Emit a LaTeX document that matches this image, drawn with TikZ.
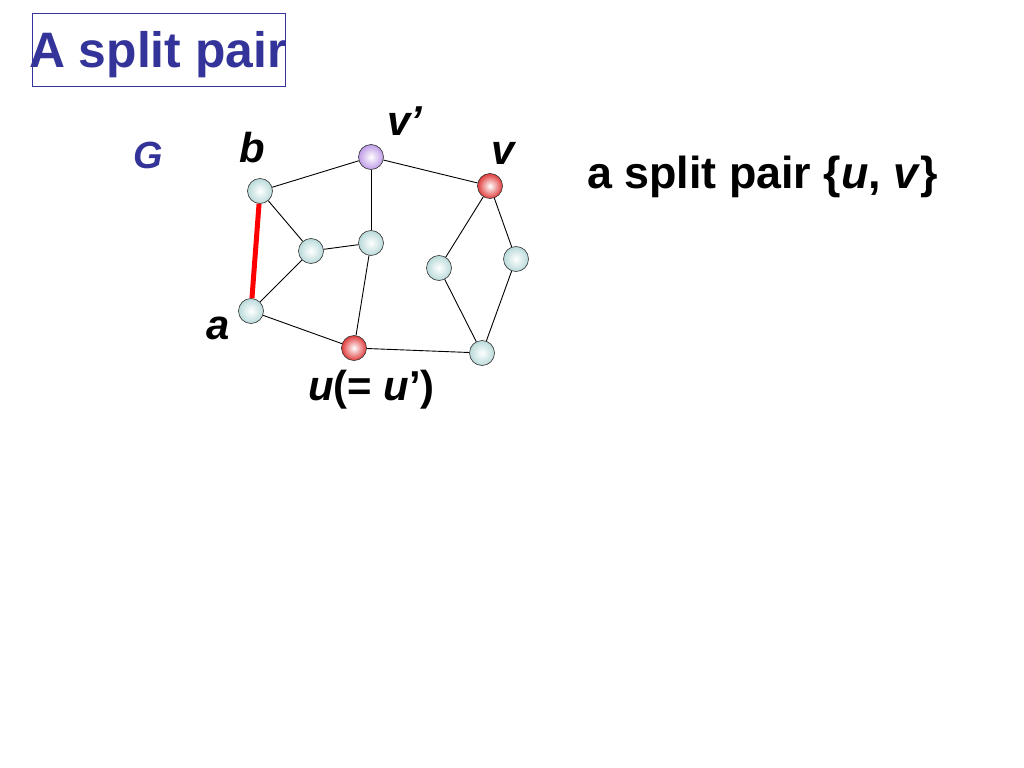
\documentclass[tikz,border=0pt]{standalone}
\usepackage{fontspec}
\setmainfont{Liberation Sans}
\begin{document}
\begin{tikzpicture}[x=1bp,y=-1bp,
  vtx/.style={circle,draw=black!80,line width=0.6bp,minimum size=25bp,inner sep=0pt,inner color=white},
  plain/.style={vtx,outer color=nodecyan},
  redv/.style={vtx,outer color=nodered},
  purv/.style={vtx,outer color=nodepurple},
  edge/.style={line width=0.9bp,black},
  lab/.style={anchor=base west,inner sep=0pt,font=\bfseries\itshape\fontsize{42}{46}\selectfont},
  ]
\definecolor{titleblue}{RGB}{51,51,153}
\definecolor{nodecyan}{RGB}{185,218,218}
\definecolor{nodered}{RGB}{225,60,60}
\definecolor{nodepurple}{RGB}{190,155,230}
\useasboundingbox (0,0) rectangle (1024,768);
% title
\node[draw=titleblue,line width=1bp,minimum width=253bp,minimum height=73bp,inner sep=0pt,anchor=north west] (tbox) at (32,13) {};
\node[anchor=base west,inner sep=0pt,text=titleblue,font=\bfseries\fontsize{50}{56}\selectfont] (title) at (29,68) {A split pair};
% vertices
\node[plain] (b) at (260,191) {};
\node[purv] (vp) at (371,157) {};
\node[redv] (v) at (490,186) {};
\node[plain] (m1) at (311,251) {};
\node[plain] (m2) at (371,243) {};
\node[plain] (a) at (251,311) {};
\node[redv] (u) at (354,348) {};
\node[plain] (r1) at (439,268) {};
\node[plain] (r2) at (516,259) {};
\node[plain] (br) at (482,353) {};
% edges
\draw[edge] (b) -- (vp);
\draw[edge] (b) -- (m1);
\draw[edge] (m1) -- (m2);
\draw[edge] (m1) -- (a);
\draw[edge] (vp) -- (m2);
\draw[edge] (vp) -- (v);
\draw[edge] (m2) -- (u);
\draw[edge] (a) -- (u);
\draw[edge] (u) -- (br);
\draw[edge] (v) -- (r1);
\draw[edge] (v) -- (r2);
\draw[edge] (r1) -- (br);
\draw[edge] (r2) -- (br);
\draw[red,line width=5bp] (b) -- (a);
% labels
\node[lab,text=titleblue,font=\bfseries\itshape\fontsize{38}{42}\selectfont] (G) at (133,168) {G};
\node[lab] (lb) at (239,162) {b};
\node[lab] (lvp) at (387,135) {v’};
\node[lab] (lv) at (491,164) {v};
\node[lab] (la) at (206,339) {a};
\node[lab] (lu) at (308,400) {u\upshape(= \itshape u\upshape’)};
\node[anchor=base west,inner sep=0pt,font=\bfseries\fontsize{45}{50}\selectfont] (sp) at (587,188) {a split pair \{\textit{u}, \textit{v}\}};
\end{tikzpicture}
\end{document}
